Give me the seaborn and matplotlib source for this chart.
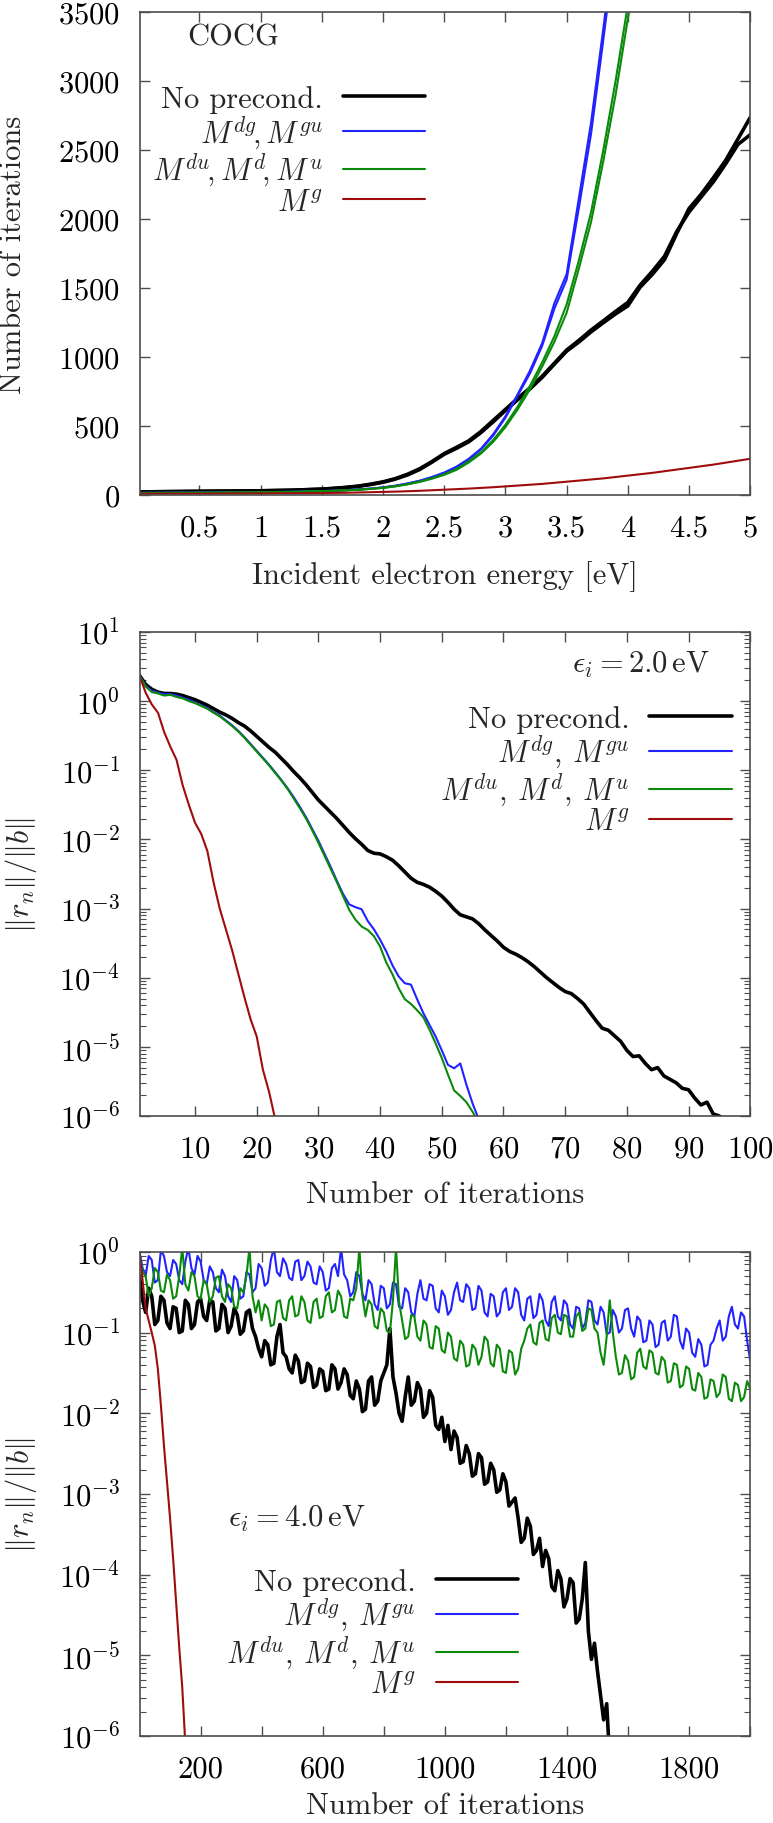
import numpy as np
import matplotlib
matplotlib.use("Agg")
import matplotlib.pyplot as plt
from matplotlib.ticker import LogLocator, NullFormatter, FixedLocator, FixedFormatter
import seaborn as sns

# ---------------- top panel: iterations vs. incident energy (COCG)
energy = [0.01, 0.25, 0.5, 0.75, 1.0, 1.25, 1.5] + [round(1.6 + 0.1 * k, 1) for k in range(35)]

noprec_a = [22, 24, 26, 28, 30, 34, 42, 47, 54, 63, 76, 92, 115, 145, 185, 238, 295, 338, 385, 452,
            530, 612, 690, 768, 852, 948, 1042, 1108, 1182, 1248, 1312, 1370, 1505, 1598, 1705, 1895,
            2075, 2180, 2300, 2425, 2580, 2735]
noprec_b = [22, 24, 26, 28, 30, 34, 42, 48, 55, 64, 78, 95, 118, 150, 190, 242, 300, 345, 392, 460,
            540, 620, 700, 775, 860, 955, 1050, 1120, 1195, 1262, 1330, 1395, 1520, 1620, 1730, 1910,
            2050, 2160, 2270, 2400, 2540, 2610]
mdg_a = [15, 16, 17, 18, 20, 23, 28, 31, 35, 40, 46, 55, 67, 83, 103, 130, 162, 205, 262, 335, 440,
         570, 730, 900, 1100, 1390, 1600, 2150, 2700, 3380, 4100]
mdg_b = [15, 16, 17, 18, 20, 23, 28, 31, 35, 40, 46, 54, 66, 82, 102, 128, 160, 200, 255, 330, 430,
         560, 720, 880, 1080, 1350, 1560, 2080, 2620, 3300, 4000]
mdu_a = [14, 15, 16, 17, 19, 22, 27, 30, 34, 38, 44, 52, 63, 78, 97, 120, 150, 188, 243, 308, 398,
         508, 640, 790, 960, 1150, 1380, 1700, 2050, 2500, 3000, 3550, 4100]
mdu_b = [14, 15, 16, 17, 19, 22, 27, 30, 34, 38, 44, 51, 62, 77, 95, 118, 146, 182, 235, 300, 385,
         492, 620, 765, 930, 1110, 1320, 1640, 1980, 2420, 2900, 3450, 4000]
mg_1 = [8, 9, 9, 10, 11, 12, 14, 15, 16, 18, 20, 22, 24, 27, 30, 34, 38, 42, 46, 51, 56, 62,
        68, 74, 80, 88, 96, 104, 112, 120, 130, 140, 150, 160, 172, 184, 196, 208, 220, 234, 248, 262]

# ---------------- middle panel: residual history at 2.0 eV (log10 of ||r_n||/||b||)
iters_2 = list(range(1, 97))
noprec_2 = [0.37, 0.24, 0.17, 0.13, 0.11, 0.11, 0.10, 0.08, 0.05, 0.02,
            -0.02, -0.06, -0.11, -0.16, -0.20, -0.25, -0.31, -0.36, -0.43, -0.51,
            -0.59, -0.67, -0.74, -0.83, -0.92, -1.02, -1.11, -1.21, -1.32, -1.43,
            -1.52, -1.61, -1.70, -1.80, -1.90, -1.99, -2.07, -2.16, -2.20, -2.21,
            -2.25, -2.30, -2.38, -2.47, -2.56, -2.62, -2.65, -2.69, -2.75, -2.82,
            -2.91, -3.01, -3.09, -3.12, -3.15, -3.22, -3.31, -3.39, -3.47, -3.56,
            -3.62, -3.66, -3.71, -3.77, -3.84, -3.92, -4.00, -4.07, -4.14, -4.20,
            -4.23, -4.30, -4.38, -4.50, -4.62, -4.73, -4.76, -4.84, -4.92, -5.05,
            -5.14, -5.13, -5.24, -5.33, -5.30, -5.42, -5.47, -5.52, -5.60, -5.62,
            -5.74, -5.84, -5.80, -5.97, -6.00, -6.10]
mdg_2 = [0.37, 0.22, 0.15, 0.12, 0.10, 0.10, 0.08, 0.05, 0.02, -0.02,
         -0.06, -0.10, -0.16, -0.21, -0.28, -0.35, -0.43, -0.52, -0.62, -0.72,
         -0.82, -0.92, -1.03, -1.14, -1.26, -1.39, -1.53, -1.68, -1.85, -2.02,
         -2.21, -2.40, -2.60, -2.79, -2.94, -2.98, -3.01, -3.18, -3.30, -3.45,
         -3.62, -3.82, -3.98, -4.08, -4.10, -4.31, -4.51, -4.68, -4.85, -5.05,
         -5.26, -5.31, -5.24, -5.55, -5.82, -6.05]
mdu_2 = [0.37, 0.21, 0.13, 0.11, 0.08, 0.09, 0.06, 0.04, 0.00, -0.03,
         -0.07, -0.11, -0.17, -0.22, -0.29, -0.36, -0.44, -0.53, -0.63, -0.73,
         -0.83, -0.93, -1.04, -1.15, -1.27, -1.41, -1.55, -1.70, -1.87, -2.05,
         -2.24, -2.43, -2.62, -2.82, -3.02, -3.16, -3.26, -3.31, -3.40, -3.55,
         -3.78, -3.95, -4.15, -4.31, -4.38, -4.47, -4.57, -4.75, -4.95, -5.16,
         -5.40, -5.63, -5.71, -5.80, -5.94, -6.10]
mg_2 = [0.37, 0.12, -0.05, -0.17, -0.45, -0.66, -0.85, -1.22, -1.50, -1.76,
        -1.92, -2.17, -2.62, -3.00, -3.30, -3.60, -3.94, -4.28, -4.60, -4.85,
        -5.33, -5.65, -6.05]

# ---------------- bottom panel: residual history at 4.0 eV (log10), every 10 iterations
iters_4 = list(range(0, 2001, 10))
noprec_4 = [-0.30, -0.60, -0.75, -0.45, -0.55, -0.90, -0.85, -0.55, -0.60, -0.88,
            -0.95, -0.68, -0.70, -1.00, -0.98, -0.60, -0.65, -0.95, -0.90, -0.62,
            -0.58, -0.80, -0.85, -0.60, -0.62, -0.98, -0.95, -0.65, -0.70, -1.00,
            -0.92, -0.70, -0.78, -1.02, -0.98, -0.75, -0.72, -0.95, -1.05, -1.20,
            -1.30, -1.10, -1.15, -1.40, -1.38, -1.05, -0.90, -1.25, -1.30, -1.45,
            -1.50, -1.28, -1.35, -1.62, -1.60, -1.38, -1.42, -1.68, -1.65, -1.45,
            -1.48, -1.72, -1.70, -1.40, -1.45, -1.70, -1.62, -1.45, -1.52, -1.78,
            -1.82, -1.60, -1.70, -1.98, -1.95, -1.60, -1.55, -1.90, -1.85, -1.60,
            -1.50, -1.40, -0.95, -1.55, -1.75, -2.00, -2.10, -1.80, -1.55, -1.90,
            -1.85, -1.62, -1.70, -2.05, -2.00, -1.72, -1.80, -2.15, -2.20, -2.05,
            -2.35, -2.15, -2.45, -2.22, -2.30, -2.62, -2.60, -2.40, -2.50, -2.78,
            -2.75, -2.50, -2.55, -2.88, -2.85, -2.62, -2.70, -2.98, -2.95, -2.75,
            -2.85, -3.15, -3.10, -3.05, -3.30, -3.60, -3.55, -3.30, -3.40, -3.75,
            -3.70, -3.55, -3.90, -3.70, -3.80, -4.15, -4.20, -3.95, -4.05, -4.40,
            -4.30, -4.05, -4.10, -4.60, -4.55, -4.30, -3.85, -4.70, -5.05, -4.85,
            -5.20, -5.50, -5.80, -5.60, -6.30]
mdg_4 = [0.00, -0.20, -0.30, -0.05, -0.10, -0.38, -0.35, 0.02, -0.05, -0.25,
         -0.30, -0.10, -0.15, -0.35, -0.40, -0.12, 0.05, -0.20, -0.28, -0.05,
         -0.12, -0.35, -0.40, -0.18, -0.25, -0.45, -0.50, -0.22, -0.30, -0.55,
         -0.62, -0.30, -0.35, -0.58, -0.55, -0.25, -0.28, -0.50, -0.45, -0.15,
         -0.20, -0.42, -0.38, -0.10, 0.05, -0.25, -0.30, -0.08, -0.15, -0.32,
         -0.35, -0.12, -0.10, -0.35, -0.30, -0.12, -0.18, -0.38, -0.40, -0.18,
         -0.25, -0.48, -0.45, -0.20, -0.15, -0.30, 0.05, -0.28, -0.35, -0.55,
         -0.50, -0.25, -0.30, -0.52, -0.60, -0.35, -0.40, -0.65, -0.72, -0.42,
         -0.45, -0.70, -0.65, -0.38, -0.40, -0.68, -0.70, -0.45, -0.50, -0.75,
         -0.80, -0.52, -0.35, -0.58, -0.60, -0.40, -0.42, -0.70, -0.75, -0.48,
         -0.55, -0.78, -0.72, -0.50, -0.38, -0.60, -0.62, -0.40, -0.45, -0.72,
         -0.70, -0.42, -0.48, -0.75, -0.80, -0.52, -0.55, -0.80, -0.75, -0.50,
         -0.45, -0.72, -0.68, -0.45, -0.50, -0.78, -0.85, -0.58, -0.55, -0.82,
         -0.78, -0.52, -0.60, -0.85, -0.92, -0.62, -0.55, -0.80, -0.85, -0.60,
         -0.65, -0.90, -0.95, -0.68, -0.70, -0.95, -0.88, -0.60, -0.62, -0.85,
         -0.90, -0.68, -0.75, -1.02, -1.00, -0.72, -0.80, -1.00, -0.95, -0.72,
         -0.70, -0.95, -1.05, -0.80, -0.85, -1.12, -1.10, -0.85, -0.90, -1.18,
         -1.15, -0.88, -0.85, -1.10, -1.05, -0.78, -0.80, -1.10, -1.20, -0.95,
         -1.00, -1.25, -1.30, -1.08, -1.15, -1.42, -1.40, -1.15, -1.10, -0.95,
         -0.85, -1.10, -1.05, -0.80, -0.68, -0.90, -0.95, -0.75, -0.80, -1.10,
         -1.35]
mdu_4 = [-0.05, -0.25, -0.30, -0.55, -0.45, -0.20, -0.25, -0.48, -0.50, -0.28,
         -0.35, -0.58, -0.55, -0.30, 0.05, -0.40, -0.48, -0.25, -0.30, -0.55,
         -0.58, -0.35, -0.40, -0.62, -0.55, -0.32, -0.30, -0.55, -0.62, -0.40,
         -0.45, -0.68, -0.70, -0.45, -0.50, -0.30, 0.05, -0.55, -0.75, -0.60,
         -0.85, -0.65, -0.70, -0.92, -0.90, -0.62, -0.60, -0.82, -0.85, -0.60,
         -0.55, -0.80, -0.78, -0.55, -0.62, -0.85, -0.88, -0.62, -0.58, -0.82,
         -0.80, -0.55, -0.50, -0.75, -0.72, -0.48, -0.55, -0.80, -0.82, -0.58,
         -0.60, -0.45, 0.05, -0.55, -0.80, -0.60, -0.65, -0.92, -0.95, -0.70,
         -0.75, -0.98, -1.00, -0.60, 0.05, -0.62, -0.85, -1.08, -1.05, -0.78,
         -0.80, -1.05, -1.10, -0.85, -0.90, -1.18, -1.20, -0.92, -0.95, -1.22,
         -1.25, -1.00, -1.05, -1.32, -1.35, -1.10, -1.15, -1.42, -1.40, -1.15,
         -1.20, -1.40, -1.30, -1.05, -1.10, -1.38, -1.42, -1.15, -1.20, -1.48,
         -1.50, -1.22, -1.25, -1.52, -1.45, -1.20, -1.10, -0.95, -0.90, -1.12,
         -1.15, -0.88, -0.85, -1.08, -1.10, -0.82, -0.78, -1.00, -1.02, -0.78,
         -0.80, -1.05, -1.05, -0.80, -0.75, -0.98, -0.95, -0.70, -0.72, -0.95,
         -1.00, -1.25, -1.40, -1.05, -0.60, -1.00, -1.30, -1.52, -1.50, -1.28,
         -1.35, -1.58, -1.55, -1.25, -1.20, -1.42, -1.45, -1.22, -1.25, -1.50,
         -1.52, -1.30, -1.35, -1.62, -1.60, -1.38, -1.40, -1.68, -1.65, -1.42,
         -1.45, -1.70, -1.72, -1.50, -1.55, -1.82, -1.80, -1.58, -1.60, -1.80,
         -1.75, -1.52, -1.55, -1.82, -1.85, -1.62, -1.65, -1.85, -1.80, -1.60,
         -1.70]
iters_4_mg = list(range(0, 151, 10))
mg_4 = [0.00, -0.35, -0.70, -0.85, -1.00, -1.16, -1.45, -1.90, -2.40, -2.85,
        -3.30, -3.80, -4.35, -4.90, -5.40, -6.10]

labels_1 = ["No precond.", r"$M^{dg}\!,M^{gu}$", r"$M^{du}\!,M^{d}\!,M^{u}$", r"$M^{g}$"]
labels_23 = ["No precond.", r"$M^{dg}$, $M^{gu}$", r"$M^{du}$, $M^{d}$, $M^{u}$", r"$M^{g}$"]

C_BLACK = "black"
C_BLUE = "#2222ff"
C_GREEN = "#0a8a0a"
C_RED = "#9e0c0c"
LW_BLACK = 2.6
LW_COL = 1.5
FS = 22

sns.set_theme(style="ticks")
plt.rcParams["font.family"] = ["cmr10", "DejaVu Serif"]
plt.rcParams["mathtext.fontset"] = "cm"
plt.rcParams["axes.formatter.use_mathtext"] = True
plt.rcParams["axes.unicode_minus"] = False


def style_axes(ax):
    for sp in ax.spines.values():
        sp.set_color("#4d4d4d")
        sp.set_linewidth(1.2)
    ax.tick_params(which="both", direction="in", top=True, right=True,
                   color="#4d4d4d", labelsize=FS, pad=14, labelcolor="black")
    ax.tick_params(which="major", length=7, width=1.0)
    ax.tick_params(which="minor", length=4, width=0.8)


def add_legend(ax, labels, anchor):
    handles = [ln for ln in ax.get_lines() if not ln.get_label().startswith("_")]
    ax.legend(handles=handles, labels=labels, loc="upper right", bbox_to_anchor=anchor,
              frameon=False, markerfirst=False, fontsize=FS, handlelength=2.7,
              handletextpad=0.65, labelspacing=0.0, borderpad=0, borderaxespad=0)


fig = plt.figure(figsize=(7.73, 18.24), dpi=100)
ax1 = fig.add_axes([0.1805, 0.7281, 0.790, 0.2648])
ax2 = fig.add_axes([0.1805, 0.3876, 0.790, 0.2654])
ax3 = fig.add_axes([0.1805, 0.0477, 0.790, 0.2654])

# ---- panel 1
sns.lineplot(x=energy, y=noprec_a, ax=ax1, color=C_BLACK, lw=LW_BLACK, label="noprec")
sns.lineplot(x=energy, y=noprec_b, ax=ax1, color=C_BLACK, lw=LW_BLACK)
sns.lineplot(x=energy[:len(mdg_a)], y=mdg_a, ax=ax1, color=C_BLUE, lw=LW_COL, label="mdg")
sns.lineplot(x=energy[:len(mdg_b)], y=mdg_b, ax=ax1, color=C_BLUE, lw=LW_COL)
sns.lineplot(x=energy[:len(mdu_a)], y=mdu_a, ax=ax1, color=C_GREEN, lw=LW_COL, label="mdu")
sns.lineplot(x=energy[:len(mdu_b)], y=mdu_b, ax=ax1, color=C_GREEN, lw=LW_COL)
sns.lineplot(x=energy, y=mg_1, ax=ax1, color=C_RED, lw=LW_COL, label="mg")
ax1.set_xlim(0.01, 5)
ax1.set_ylim(0, 3500)
ax1.set_xticks([0.5, 1, 1.5, 2, 2.5, 3, 3.5, 4, 4.5, 5])
ax1.set_xticklabels(["0.5", "1", "1.5", "2", "2.5", "3", "3.5", "4", "4.5", "5"])
ax1.set_yticks(range(0, 3501, 500))
ax1.set_xlabel("Incident electron energy [eV]", fontsize=FS)
ax1.set_ylabel("Number of iterations", fontsize=FS)
style_axes(ax1)
add_legend(ax1, labels_1, (0.468, 0.849))
ax1.text(0.078, 0.948, "COCG", transform=ax1.transAxes, fontsize=FS, ha="left", va="center")

# ---- panel 2
sns.lineplot(x=iters_2, y=10.0 ** np.array(noprec_2), ax=ax2, color=C_BLACK, lw=LW_BLACK, label="noprec")
sns.lineplot(x=iters_2[:len(mdg_2)], y=10.0 ** np.array(mdg_2), ax=ax2, color=C_BLUE, lw=LW_COL, label="mdg")
sns.lineplot(x=iters_2[:len(mdu_2)], y=10.0 ** np.array(mdu_2), ax=ax2, color=C_GREEN, lw=LW_COL, label="mdu")
sns.lineplot(x=iters_2[:len(mg_2)], y=10.0 ** np.array(mg_2), ax=ax2, color=C_RED, lw=LW_COL, label="mg")
ax2.set_yscale("log")
ax2.set_xlim(1, 100)
ax2.set_ylim(1e-6, 10)
ax2.set_xticks(range(10, 101, 10))
ax2.set_xlabel("Number of iterations", fontsize=FS)
ax2.set_ylabel(r"$\Vert r_n\Vert/\Vert b\Vert$", fontsize=FS)
style_axes(ax2)
add_legend(ax2, labels_23, (0.970, 0.849))
ax2.text(0.934, 0.934, r"$\epsilon_i = 2.0\,\mathrm{eV}$", transform=ax2.transAxes,
         fontsize=FS, ha="right", va="center")

# ---- panel 3
sns.lineplot(x=iters_4[:len(noprec_4)], y=10.0 ** np.array(noprec_4), ax=ax3, color=C_BLACK, lw=LW_BLACK, label="noprec")
sns.lineplot(x=iters_4, y=10.0 ** np.array(mdg_4), ax=ax3, color=C_BLUE, lw=LW_COL, label="mdg")
sns.lineplot(x=iters_4, y=10.0 ** np.array(mdu_4), ax=ax3, color=C_GREEN, lw=LW_COL, label="mdu")
sns.lineplot(x=iters_4_mg, y=10.0 ** np.array(mg_4), ax=ax3, color=C_RED, lw=LW_COL, label="mg")
ax3.set_yscale("log")
ax3.set_xlim(0, 2000)
ax3.set_ylim(1e-6, 1)
ax3.xaxis.set_major_locator(FixedLocator(list(range(200, 2001, 200))))
ax3.xaxis.set_major_formatter(FixedFormatter(["200", "", "600", "", "1000", "", "1400", "", "1800", ""]))
ax3.set_xlabel("Number of iterations", fontsize=FS)
ax3.set_ylabel(r"$\Vert r_n\Vert/\Vert b\Vert$", fontsize=FS)
style_axes(ax3)
add_legend(ax3, labels_23, (0.620, 0.347))
ax3.text(0.145, 0.450, r"$\epsilon_i = 4.0\,\mathrm{eV}$", transform=ax3.transAxes,
         fontsize=FS, ha="left", va="center")

for ax in (ax2, ax3):
    ax.yaxis.set_major_locator(LogLocator(base=10, numticks=12))
    ax.yaxis.set_minor_locator(LogLocator(base=10, subs=np.arange(2, 10), numticks=12))
    ax.yaxis.set_minor_formatter(NullFormatter())
    ax.xaxis.set_minor_locator(FixedLocator([]))

ax1.yaxis.set_label_coords(-0.185, 0.5)
ax2.yaxis.set_label_coords(-0.165, 0.5)
ax3.yaxis.set_label_coords(-0.165, 0.5)
for ax in (ax1, ax2):
    ax.xaxis.set_label_coords(0.5, -0.134)
ax3.xaxis.set_label_coords(0.5, -0.114)

fig.savefig("out.png", dpi=100)
